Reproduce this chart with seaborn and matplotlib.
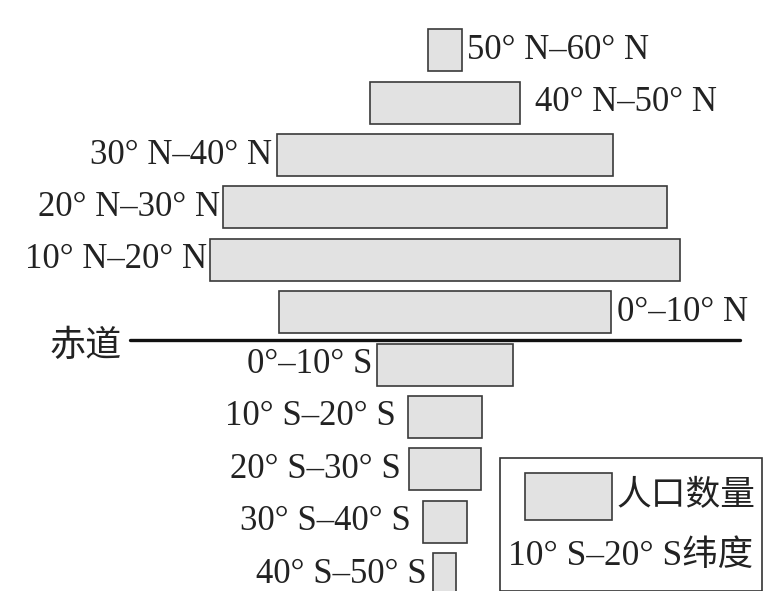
import matplotlib
matplotlib.use("Agg")
import matplotlib.pyplot as plt
import seaborn as sns
import pandas as pd
from matplotlib.patches import Rectangle

# latitude bands, north to south
bands = [
    "50° N–60° N", "40° N–50° N", "30° N–40° N", "20° N–30° N", "10° N–20° N", "0°–10° N",
    "0°–10° S", "10° S–20° S", "20° S–30° S", "30° S–40° S", "40° S–50° S",
]
# relative population (bar length)
population = [34, 150, 335, 443, 470, 332, 135, 74, 72, 44, 23]

label_side = ["right", "right", "left", "left", "left", "right",
              "left", "left", "left", "left", "left"]
label_gap = [5, 15, 5, 3, 3, 6, 5, 12, 8, 12, 7]

sns.set_theme(style="white")
plt.rcParams["font.family"] = ["Liberation Serif", "Noto Sans CJK SC"]

W, H = 763, 591
fig = plt.figure(figsize=(W / 100, H / 100), dpi=100)
ax = fig.add_axes([0, 0, 1, 1])

df = pd.DataFrame({"band": bands, "population": population})
sns.barplot(data=df, x="population", y="band", orient="h", color="#e2e2e2",
            saturation=1, edgecolor="#3a3a3a", linewidth=1.2, width=0.8, ax=ax)

# center each bar on the axis
for p in ax.patches:
    p.set_x(-p.get_width() / 2)

step, top = 52.38, 50.3
ax.set_xlim(-445, W - 445)
ax.set_ylim((H - top) / step, -top / step)
ax.axis("off")

for p, text, side, gap in zip(ax.patches, bands, label_side, label_gap):
    yc = p.get_y() + p.get_height() / 2
    if side == "right":
        ax.annotate(text, (p.get_x() + p.get_width(), yc), xytext=(gap, 0),
                    textcoords="offset pixels", ha="left", va="center",
                    fontsize=25, color="#222222")
    else:
        ax.annotate(text, (p.get_x(), yc), xytext=(-gap, 0),
                    textcoords="offset pixels", ha="right", va="center",
                    fontsize=25, color="#222222")

# equator
ax.axhline(5.53, xmin=130 / W, xmax=740 / W, color="#111111", lw=2.4)
ax.annotate("赤道", xy=(130 / W, 5.53), xycoords=("axes fraction", "data"),
            xytext=(-8, -7), textcoords="offset pixels", ha="right", va="center",
            fontsize=26, color="#222222")

# legend box
fig.add_artist(Rectangle((500 / W, 0), 262 / W, 133 / H, transform=fig.transFigure,
                         fill=False, ec="#333333", lw=1.2))
fig.add_artist(Rectangle((525 / W, 1 - 520 / H), 87 / W, 47 / H, transform=fig.transFigure,
                         fc="#e2e2e2", ec="#3a3a3a", lw=1.2))
fig.text(617 / W, 1 - 497 / H, "人口数量", ha="left", va="center", fontsize=25, color="#222222")
fig.text(508 / W, 1 - 556 / H, "10° S–20° S纬度", ha="left", va="center", fontsize=25.5, color="#222222")

fig.savefig("out.png", dpi=100)
